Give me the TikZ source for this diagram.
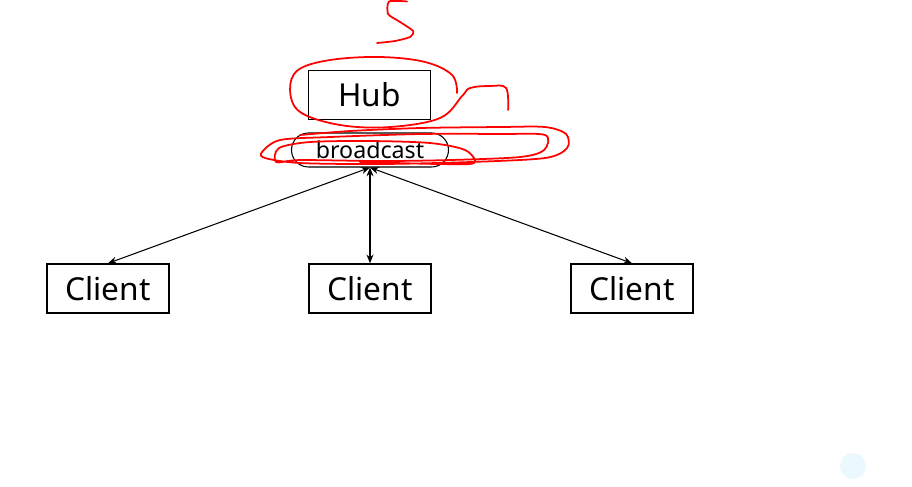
\documentclass[tikz,border=0pt]{standalone}
\usepackage{fontspec}
\setmainfont{Noto Sans}
\usepackage{tikz}
\usetikzlibrary{positioning,arrows.meta,shapes.misc}

\begin{document}
\begin{tikzpicture}[
    box/.style={draw, line width=0.8pt, minimum width=2.44cm, minimum height=0.98cm,
                font=\fontsize{18}{20}\selectfont, inner sep=0pt},
    pill/.style={draw, rounded rectangle, line width=0.6pt, minimum width=3.14cm,
                minimum height=0.68cm, font=\fontsize{13.2}{15}\selectfont, inner sep=0pt},
    arrow/.style={{Stealth[length=5pt,width=4pt]}-{Stealth[length=5pt,width=4pt]}, line width=0.6pt},
    scribble/.style={red, line width=1pt, line cap=round, line join=round}
]
\useasboundingbox (0,0) rectangle (18.24,-9.74);
\node[box] (hub) at (7.39,-1.90) {Hub};
\node[pill] (bc) at (7.40,-3.00) {broadcast};
\node[box] (c1) at (2.16,-5.77) {Client};
\node[box] (c2) at (7.40,-5.77) {Client};
\node[box] (c3) at (12.64,-5.77) {Client};
\foreach \x in {c1,c2,c3} {
    \draw[arrow] (bc.south) -- (\x.north);
}
% red pen marks
\begin{scope}[x=0.02cm, y=-0.02cm, scribble]
\draw plot[smooth, tension=0.4] coordinates {(407,1.5) (389,1.5) (388,14) (400,22) (413,31) (410,37) (395,41) (377,43)};
\draw plot[smooth, tension=0.6] coordinates {(457,93) (452,75) (425,62) (380,57) (330,60) (298,70) (290,90) (300,112) (340,125) (390,127) (440,118) (462,96) (470,88) (490,86) (506,88) (508,110)};
\draw plot[smooth, tension=0.5] coordinates {(300,135) (350,131) (420,128) (500,127) (545,127) (566,134) (567,148) (545,158) (470,162) (380,164) (300,163) (265,158) (262,152) (280,140) (330,137) (420,134) (500,134) (545,135) (544,150) (520,157) (450,160) (380,161) (300,160) (276,162) (279,148) (310,142) (370,141) (430,143) (465,150) (474,163) (440,164) (360,162)};
\end{scope}
\fill[cyan!8] (17.06,-9.32) circle (0.26);
\end{tikzpicture}
\end{document}
